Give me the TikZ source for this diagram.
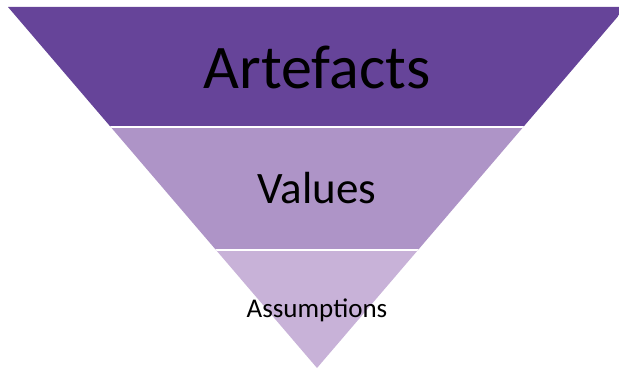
\documentclass[tikz,border=0pt]{standalone}
\usepackage{fontspec}
\setmainfont{Carlito}
\usepackage{tikz}
\definecolor{artefactcol}{HTML}{664499}
\definecolor{valuecol}{HTML}{AE94C7}
\definecolor{assumpcol}{HTML}{C8B2D8}
\begin{document}
\begin{tikzpicture}[x=1pt, y=-1pt, every node/.style={inner sep=0pt}]
		\useasboundingbox (0,0) rectangle (619,369);
		\coordinate (tl) at (8,7);
		\coordinate (tr) at (626,7);
		\coordinate (apex) at (317,368);
		\begin{scope}
		\clip (tl) -- (tr) -- (apex) -- cycle;
		\fill[artefactcol] (0,0) rectangle (640,127);
		\fill[valuecol] (0,127) rectangle (640,250);
		\fill[assumpcol] (0,250) rectangle (640,370);
		\draw[white, line width=2pt] (0,127) -- (640,127);
		\draw[white, line width=2pt] (0,250) -- (640,250);
		\end{scope}
		\node (artefacts) at (317,67) {\fontsize{62}{62}\selectfont Artefacts};
		\node (values) at (317,188) {\fontsize{45}{45}\selectfont Values};
		\node (assumptions) at (317,310) {\fontsize{27}{27}\selectfont Assumptions};
\end{tikzpicture}
\end{document}
